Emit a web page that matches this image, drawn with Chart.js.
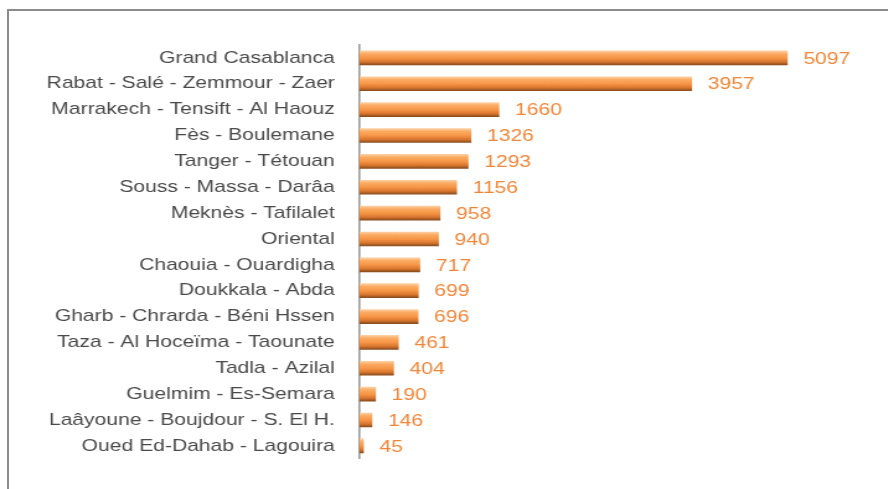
<!DOCTYPE html>
<html>
<head>
<meta charset="utf-8">
<script src="https://cdn.jsdelivr.net/npm/chart.js@4.4.1/dist/chart.umd.min.js"></script>
<style>
    html, body { margin: 0; padding: 0; background: #fff; overflow: hidden; }
    body { width: 888px; height: 489px; position: relative; }
    #frame {
        position: absolute;
        left: 7px;
        top: 9px;
        width: 900px;
        height: 500px;
        border: 2px solid #8c8c8c;
        box-sizing: border-box;
    }
    /* the source image is stretched horizontally, so stretch the canvas the same way */
    #wrap {
        position: absolute;
        left: 0;
        top: 0;
        width: 716px;
        height: 489px;
        transform-origin: 0 0;
        transform: scaleX(1.24);
    }
</style>
</head>
<body>
<div id="frame"></div>
<div id="wrap"><canvas id="regionChart" width="716" height="489"></canvas></div>
<script>
// Chart data
const regions = [
    'Grand Casablanca',
    'Rabat - Salé - Zemmour - Zaer',
    'Marrakech - Tensift - Al Haouz',
    'Fès - Boulemane',
    'Tanger - Tétouan',
    'Souss - Massa - Darâa',
    'Meknès - Tafilalet',
    'Oriental',
    'Chaouia - Ouardigha',
    'Doukkala - Abda',
    'Gharb - Chrarda - Béni Hssen',
    'Taza - Al Hoceïma - Taounate',
    'Tadla - Azilal',
    'Guelmim - Es-Semara',
    'Laâyoune - Boujdour - S. El H.',
    'Oued Ed-Dahab - Lagouira'
];
const counts = [5097, 3957, 1660, 1326, 1293, 1156, 958, 940, 717, 699, 696, 461, 404, 190, 146, 45];

const LABEL_COLOR = '#4a4a4a';
const VALUE_COLOR = '#f08638';
const BAR_H = 14;

// Cylinder-like vertical gradient for each bar
function barGradient(c) {
    const chart = c.chart;
    if (!chart.chartArea || !chart.scales.y) return '#f79646';
    const yc = chart.scales.y.getPixelForValue(c.dataIndex);
    const g = chart.ctx.createLinearGradient(0, yc - BAR_H / 2, 0, yc + BAR_H / 2);
    g.addColorStop(0, '#fdd0a2');
    g.addColorStop(0.2, '#fbab63');
    g.addColorStop(0.5, '#f79646');
    g.addColorStop(0.78, '#d8762f');
    g.addColorStop(1, '#8a4c1d');
    return g;
}

// Value labels at the end of each bar
const valueLabels = {
    id: 'valueLabels',
    afterDatasetsDraw(chart) {
        const ctx = chart.ctx;
        const meta = chart.getDatasetMeta(0);
        ctx.save();
        ctx.font = '17px "Liberation Sans", Arial, sans-serif';
        ctx.fillStyle = VALUE_COLOR;
        ctx.textAlign = 'left';
        ctx.textBaseline = 'middle';
        meta.data.forEach((el, i) => {
            ctx.fillText(String(counts[i]), el.x + 13, el.y + 1);
        });
        ctx.restore();
    }
};

new Chart(document.getElementById('regionChart'), {
    type: 'bar',
    data: {
        labels: regions,
        datasets: [{
            data: counts,
            backgroundColor: barGradient,
            borderWidth: 0,
            barThickness: BAR_H
        }]
    },
    options: {
        indexAxis: 'y',
        responsive: false,
        animation: false,
        devicePixelRatio: 1,
        layout: { padding: { left: 0, right: 20, top: 45, bottom: 25 } },
        plugins: {
            legend: { display: false },
            tooltip: { enabled: false }
        },
        scales: {
            x: {
                display: false,
                min: 0,
                max: 6000
            },
            y: {
                afterFit(scale) { scale.width = 290; },
                grid: { display: false, drawTicks: false },
                border: { display: true, color: '#9a9a9a', width: 1.6 },
                ticks: {
                    padding: 20,
                    color: LABEL_COLOR,
                    font: { family: '"Liberation Sans", Arial, sans-serif', size: 17 }
                }
            }
        }
    },
    plugins: [valueLabels]
});
</script>
</body>
</html>
